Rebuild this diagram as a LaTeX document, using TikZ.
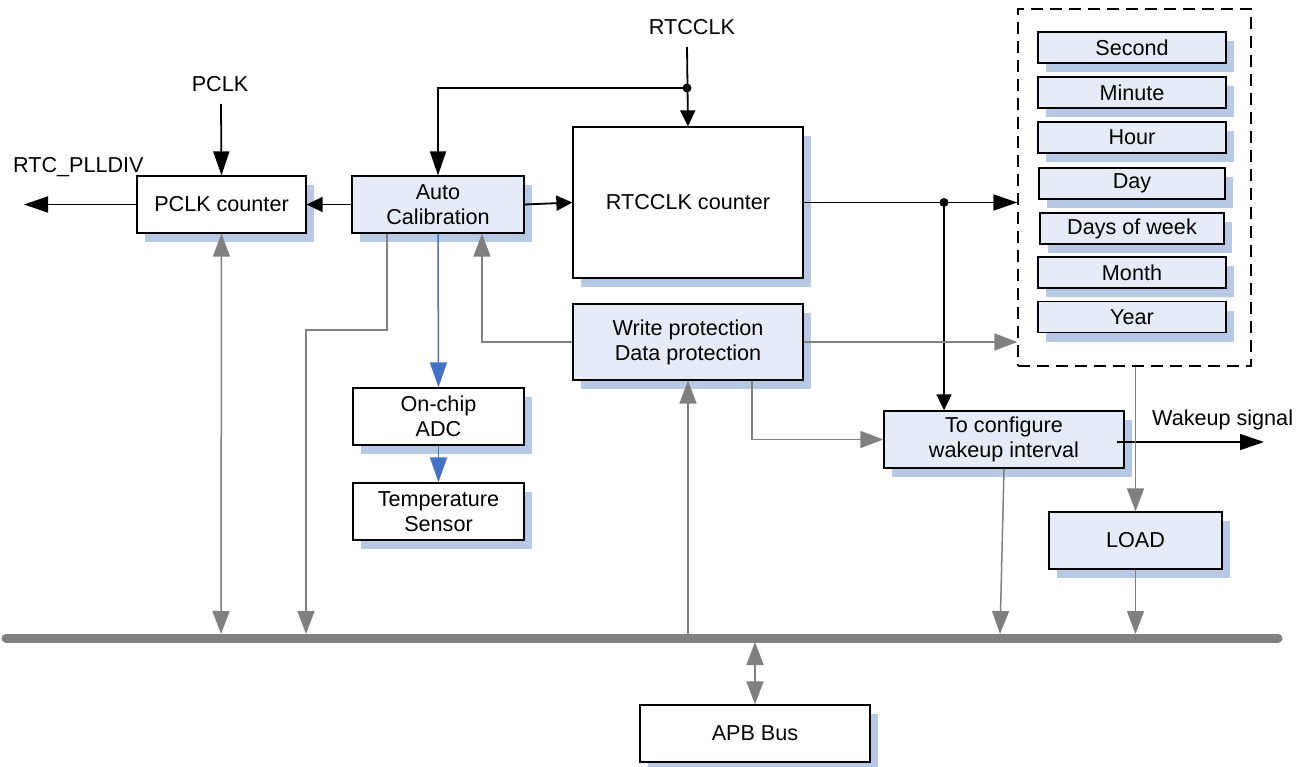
\documentclass[tikz,border=0pt]{standalone}
\usepackage{fontspec}
\setmainfont{Liberation Sans}
\usetikzlibrary{arrows.meta,shadows,calc}
\definecolor{boxfill}{RGB}{230,236,247}
\definecolor{shblue}{RGB}{183,201,228}
\definecolor{linegray}{RGB}{128,128,128}
\definecolor{adcblue}{RGB}{68,114,196}
\begin{document}
\begin{tikzpicture}[x=1pt,y=-1pt,
  font=\fontsize{21.6}{25}\selectfont,
  box/.style={draw=black, line width=1.3pt, fill=white, align=center, inner sep=0pt,
    drop shadow={shadow xshift=8pt, shadow yshift=-9pt, fill=shblue, opacity=1}},
  bluebox/.style={box, fill=boxfill},
  lbl/.style={inner sep=0pt},
  bl/.style={-{Triangle[length=16pt,width=15pt]}, line width=1.8pt, draw=black},
  blL/.style={-{Triangle[length=24pt,width=16pt]}, line width=1.8pt, draw=black},
  gr/.style={-{Triangle[length=23pt,width=17pt]}, line width=1.5pt, draw=linegray},
  grd/.style={{Triangle[length=23pt,width=17pt]}-{Triangle[length=23pt,width=17pt]}, line width=1.5pt, draw=linegray},
  grl/.style={line width=1.5pt, draw=linegray},
  blu/.style={-{Triangle[length=25pt,width=17pt]}, line width=1.5pt, draw=adcblue},
  dashbox/.style={draw=black, line width=1.3pt, dash pattern=on 12pt off 7pt, inner sep=0pt},
  dotc/.style={circle, fill=black, inner sep=0pt, minimum size=9pt}
]
\useasboundingbox (0,0) rectangle (1306,767);

% bus
\coordinate (busL) at (6,638);
\coordinate (busR) at (1278,638);
\draw[line width=9pt, linegray, line cap=round] (busL) -- (busR);
\coordinate (busy) at (0,634);

% boxes
\node[box, minimum width=169pt, minimum height=57pt] (pclk) at (221.5,204.5) {PCLK counter};
\node[bluebox, minimum width=172pt, minimum height=57pt] (auto) at (438,204.5) {Auto\\Calibration};
\node[box, minimum width=230pt, minimum height=151pt] (rtc) at (688,202.5) {RTCCLK counter};
\node[bluebox, minimum width=230pt, minimum height=76pt] (wp) at (688,342) {Write protection\\Data protection};
\node[box, minimum width=171pt, minimum height=57pt] (adc) at (438.5,416.5) {On-chip\\ADC};
\node[box, minimum width=171pt, minimum height=57pt] (temp) at (438.5,511.5) {Temperature\\Sensor};
\node[bluebox, minimum width=240pt, minimum height=57pt] (cfg) at (1004,439.5) {To configure\\wakeup interval};
\node[bluebox, minimum width=173pt, minimum height=57pt] (load) at (1135.5,540.5) {LOAD};
\node[box, minimum width=230pt, minimum height=57pt] (apb) at (755,733.5) {APB Bus};

% dashed box with time registers
\node[dashbox, minimum width=233pt, minimum height=357pt] (dash) at (1134.5,187.5) {};
\node[bluebox, minimum width=188pt, minimum height=31pt] (sec) at (1132,47.5) {Second};
\node[bluebox, minimum width=188pt, minimum height=31pt] (min) at (1132,92.5) {Minute};
\node[bluebox, minimum width=188pt, minimum height=31pt] (hour) at (1132,137.5) {Hour};
\node[bluebox, minimum width=186pt, minimum height=31pt] (day) at (1132,183.5) {Day};
\node[bluebox, minimum width=184pt, minimum height=31pt] (dow) at (1132,228.5) {Days of week};
\node[bluebox, minimum width=188pt, minimum height=31pt] (mon) at (1132,272.5) {Month};
\node[bluebox, minimum width=188pt, minimum height=31pt] (year) at (1132,317) {Year};

% labels
\node[lbl] (pclklbl) at (220,84) {PCLK};
\node[lbl, anchor=west] (plldivlbl) at (13,167) {RTC\_PLLDIV};
\node[lbl] (rtclbl) at (692,27) {RTCCLK};
\node[lbl, anchor=west] (wklbl) at (1152,420) {Wakeup signal};

% coordinates
\coordinate (pclkin) at (221,104);
\coordinate (plldiv) at (24,204.5);
\coordinate (rtcin) at (687,47);
\coordinate (x387) at (387,0);
\coordinate (a1) at (387,330);
\coordinate (bus306) at (306,634);
\coordinate (x482) at (482,0);
\coordinate (x752) at (752,0);
\coordinate (bus688) at (688,638);
\coordinate (bus1000) at (1000,634);
\coordinate (bus221) at (221,634);
\coordinate (apbtop) at (755,642);
\coordinate (wkend) at (1264,442);

% black signals
\draw[blL] (pclkin) -- (pclk.north);
\draw[blL] (pclk.west) -- (plldiv);
\draw[bl] (auto.west) -- (pclk.east);
\draw[bl] (auto.east) -- (rtc.west);
\node[dotc] (dot1) at (687,88) {};
\draw[bl] (rtcin) -- (rtc.north);
\draw[blL] (dot1.center) -| (auto.north);
\node[dotc] (dot2) at (944,202.5) {};
\draw[blL] (rtc.east) -- (rtc.east -| dash.west);
\draw[bl] (dot2.center) -- (dot2 |- cfg.north);
\draw[blL] ([xshift=-8pt,yshift=-2.5pt]cfg.east) -- (wkend);

% blue
\draw[blu] (auto.south) -- (adc.north);
\draw[blu] (adc.south) -- (temp.north);

% gray
\draw[grd] (bus221) -- (pclk.south);
\draw[gr] (auto.south -| x387) -- (a1) -| (bus306);
\draw[gr] (wp.west) -| (auto.south -| x482);
\draw[gr] (wp.east) -- (wp.east -| dash.west);
\draw[gr] (wp.south -| x752) |- (cfg.west);
\draw[gr] (bus688) -- (wp.south);
\draw[gr] (cfg.south) -- (bus1000);
\draw[gr] (dash.south -| load.north) -- (load.north);
\draw[gr] (load.south) -- (load.south |- busy);
\draw[grd] (apbtop) -- (apb.north);
\end{tikzpicture}
\end{document}
